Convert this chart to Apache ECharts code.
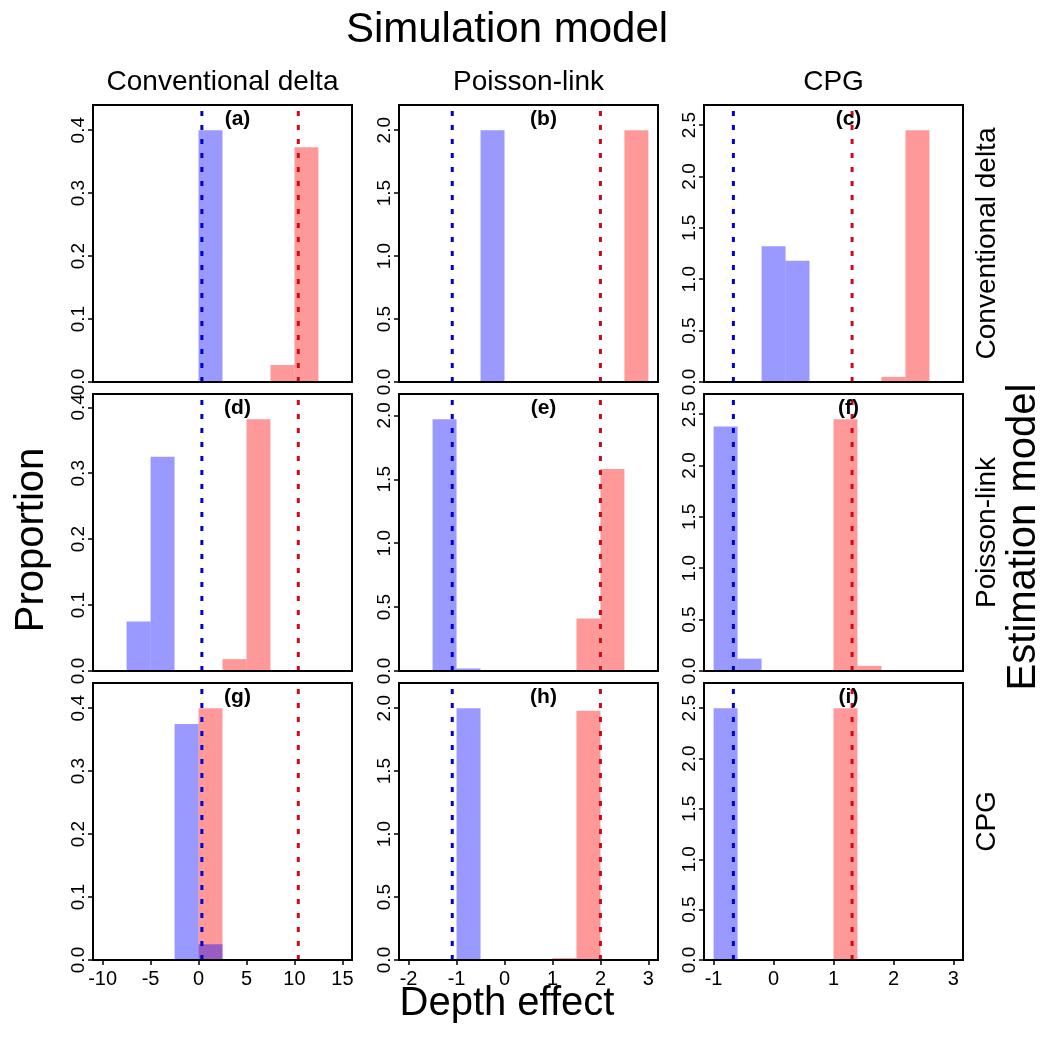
<!DOCTYPE html>
<html>
<head>
<meta charset="utf-8">
<script src="https://cdn.jsdelivr.net/npm/echarts@6/dist/echarts.min.js"></script>
<style>
  html, body { margin: 0; padding: 0; background: #ffffff; }
  #chart { width: 1045px; height: 1046px; }
</style>
</head>
<body>
<div id="chart"></div>
<script>
const colTitles = ['Conventional delta', 'Poisson-link', 'CPG']
const rowTitles = ['Conventional delta', 'Poisson-link', 'CPG']
const panelTags = ['(a)', '(b)', '(c)', '(d)', '(e)', '(f)', '(g)', '(h)', '(i)']

// per simulation model (column)
const binWidth = [2.5, 0.5, 0.4]
const xRange = [[-11, 16], [-2.2, 3.2], [-1.16, 3.16]]
const xTicks = [[-10, -5, 0, 5, 10, 15], [-2, -1, 0, 1, 2, 3], [-1, 0, 1, 2, 3]]
const yTicks = [[0, 0.1, 0.2, 0.3, 0.4], [0, 0.5, 1, 1.5, 2], [0, 0.5, 1, 1.5, 2, 2.5]]
const trueBlue = [0.35, -1.09, -0.67]
const trueRed = [10.4, 2.0, 1.31]

// histogram bins: [left edge, density]
const blueA = [[0, 0.40]]
const redA = [[7.5, 0.027], [10, 0.373]]
const blueB = [[-0.5, 2.0]]
const redB = [[2.5, 2.0]]
const blueC = [[-0.2, 1.32], [0.2, 1.18]]
const redC = [[1.8, 0.05], [2.2, 2.45]]
const blueD = [[-7.5, 0.075], [-5, 0.325]]
const redD = [[2.5, 0.018], [5, 0.382]]
const blueE = [[-1.5, 1.97], [-1.0, 0.02]]
const redE = [[1.5, 0.41], [2.0, 1.58]]
const blueF = [[-1.0, 2.38], [-0.6, 0.12]]
const redF = [[1.0, 2.45], [1.4, 0.05]]
const blueG = [[-2.5, 0.375], [0, 0.025]]
const redG = [[0, 0.40]]
const blueH = [[-1.0, 2.0]]
const redH = [[1.0, 0.015], [1.5, 1.98]]
const blueI = [[-1.0, 2.5]]
const redI = [[1.0, 2.5]]

const blueBins = [blueA, blueB, blueC, blueD, blueE, blueF, blueG, blueH, blueI]
const redBins = [redA, redB, redC, redD, redE, redF, redG, redH, redI]

const FONT = 'Liberation Sans, Arial, sans-serif'
const colLeft = [93, 399, 704]
const rowTop = [105, 394, 683]
const plotW = 259
const plotH = 277

const chart = echarts.init(document.getElementById('chart'))

const grids = []
const xAxes = []
const yAxes = []
const series = []
const graphics = []

const histItem = (fill) => (params, api) => {
  const p0 = api.coord([api.value(0), 0])
  const p1 = api.coord([api.value(1), api.value(2)])
  return {
    type: 'rect',
    shape: { x: p0[0], y: p1[1], width: p1[0] - p0[0], height: p0[1] - p1[1] },
    style: { fill: fill }
  }
}

for (let i = 0; i < 9; i++) {
  const col = i % 3
  const row = Math.floor(i / 3)
  const bottomRow = row === 2
  const allDens = blueBins[i].concat(redBins[i]).map(b => b[1])
  const yMax = Math.max(...allDens) * 1.1

  grids.push({
    left: colLeft[col], top: rowTop[row], width: plotW, height: plotH,
    show: true, borderColor: '#000', borderWidth: 2, backgroundColor: '#fff',
    containLabel: false, outerBoundsMode: 'none'
  })

  xAxes.push({
    type: 'value', gridIndex: i, min: xRange[col][0], max: xRange[col][1], z: 10,
    splitLine: { show: false },
    axisLine: { show: true, onZero: false, lineStyle: { color: '#000', width: 2 } },
    axisTick: { show: bottomRow, length: 5, customValues: xTicks[col], lineStyle: { color: '#000', width: 1.5 } },
    axisLabel: {
      show: bottomRow, customValues: xTicks[col], margin: 9,
      fontFamily: FONT, fontSize: 20, color: '#000'
    }
  })

  yAxes.push({
    type: 'value', gridIndex: i, min: 0, max: yMax, z: 10,
    splitLine: { show: false },
    axisLine: { show: true, onZero: false, lineStyle: { color: '#000', width: 2 } },
    axisTick: { show: true, length: 5, customValues: yTicks[col], lineStyle: { color: '#000', width: 1.5 } },
    axisLabel: {
      customValues: yTicks[col], rotate: 90, margin: 5,
      fontFamily: FONT, fontSize: 19, color: '#000',
      formatter: v => Number(v).toFixed(1)
    }
  })

  const w = binWidth[col]
  series.push({
    type: 'custom', xAxisIndex: i, yAxisIndex: i, silent: true,
    renderItem: histItem('rgba(255, 0, 0, 0.4)'),
    encode: { x: [0, 1], y: 2 },
    data: redBins[i].map(b => [b[0], b[0] + w, b[1]])
  })
  series.push({
    type: 'custom', xAxisIndex: i, yAxisIndex: i, silent: true,
    renderItem: histItem('rgba(0, 0, 255, 0.4)'),
    encode: { x: [0, 1], y: 2 },
    data: blueBins[i].map(b => [b[0], b[0] + w, b[1]])
  })
  series.push({
    type: 'line', xAxisIndex: i, yAxisIndex: i, silent: true, showSymbol: false, z: 5,
    data: [[trueBlue[col], 0], [trueBlue[col], yMax]],
    lineStyle: { color: '#0000cd', width: 3, type: [5, 9] }
  })
  series.push({
    type: 'line', xAxisIndex: i, yAxisIndex: i, silent: true, showSymbol: false, z: 5,
    data: [[trueRed[col], 0], [trueRed[col], yMax]],
    lineStyle: { color: '#cd0a1a', width: 3, type: [5, 9] }
  })

  graphics.push({
    type: 'text', x: colLeft[col] + plotW / 2 + 15, y: rowTop[row] + 14, z: 20,
    style: {
      text: panelTags[i], font: 'bold 21px ' + FONT, fill: '#000',
      align: 'center', verticalAlign: 'middle'
    }
  })
}

// outer titles
graphics.push({
  type: 'text', x: 507, y: 30,
  style: { text: 'Simulation model', font: '42px ' + FONT, fill: '#000', align: 'center', verticalAlign: 'middle' }
})
colTitles.forEach((t, c) => {
  graphics.push({
    type: 'text', x: colLeft[c] + plotW / 2, y: 82,
    style: { text: t, font: '28px ' + FONT, fill: '#000', align: 'center', verticalAlign: 'middle' }
  })
})
rowTitles.forEach((t, r) => {
  graphics.push({
    type: 'text', x: 987, y: rowTop[r] + plotH / 2, rotation: Math.PI / 2,
    style: { text: t, font: '28px ' + FONT, fill: '#000', align: 'center', verticalAlign: 'middle' }
  })
})
graphics.push({
  type: 'text', x: 1024, y: 537, rotation: Math.PI / 2,
  style: { text: 'Estimation model', font: '40px ' + FONT, fill: '#000', align: 'center', verticalAlign: 'middle' }
})
graphics.push({
  type: 'text', x: 32, y: 540, rotation: Math.PI / 2,
  style: { text: 'Proportion', font: '40px ' + FONT, fill: '#000', align: 'center', verticalAlign: 'middle' }
})
graphics.push({
  type: 'text', x: 507, y: 1004,
  style: { text: 'Depth effect', font: '40px ' + FONT, fill: '#000', align: 'center', verticalAlign: 'middle' }
})

chart.setOption({
  backgroundColor: '#ffffff',
  animation: false,
  grid: grids,
  xAxis: xAxes,
  yAxis: yAxes,
  series: series,
  graphic: graphics
})
</script>
</body>
</html>
